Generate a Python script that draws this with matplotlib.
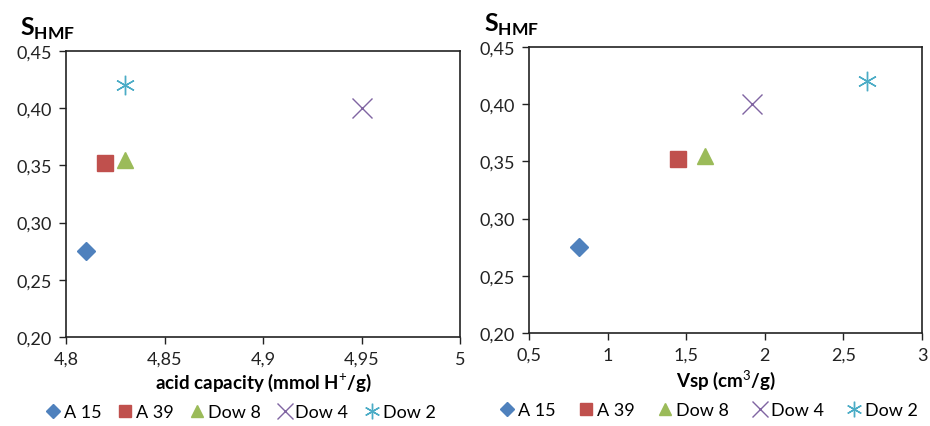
import numpy as np
import matplotlib
matplotlib.use('Agg')
import matplotlib.pyplot as plt
from matplotlib.ticker import FuncFormatter, MultipleLocator

# --- data ---
names       = ['A 15', 'A 39', 'Dow 8', 'Dow 4', 'Dow 2']
acid_cap    = [4.81, 4.82, 4.83, 4.95, 4.83]
vsp         = [0.82, 1.45, 1.62, 1.92, 2.65]
s_hmf       = [0.275, 0.352, 0.355, 0.40, 0.42]

colors  = ['#4F81BD', '#C0504D', '#9BBB59', '#8064A2', '#4BACC6']
markers = ['D', 's', '^', 'x', (6, 2, 0)]
msizes  = [9, 11, 11, 14, 14]
mews    = [1.0, 1.0, 1.0, 1.0, 1.0]

plt.rcParams['font.family'] = ['Lato', 'DejaVu Sans']
plt.rcParams['mathtext.fontset'] = 'custom'
plt.rcParams['mathtext.bf'] = 'Lato:bold'
plt.rcParams['mathtext.rm'] = 'Lato'

fig = plt.figure(figsize=(9.3, 4.27), dpi=100)

ax_L = fig.add_axes([66/930, 1 - 338/427, 394/930, 286/427])
ax_R = fig.add_axes([529/930, 1 - 334/427, 393/930, 286/427])


def comma(v, pos):
    return ('%g' % v).replace('.', ',')


def comma2(v, pos):
    return ('%.2f' % v).replace('.', ',')


for ax, xs in [(ax_L, acid_cap), (ax_R, vsp)]:
    for i in range(len(names)):
        ax.plot(xs[i], s_hmf[i], linestyle='none', marker=markers[i],
                color=colors[i], markersize=msizes[i], markeredgewidth=mews[i],
                label=names[i])
    ax.set_ylim(0.20, 0.45)
    ax.yaxis.set_major_locator(MultipleLocator(0.05))
    ax.yaxis.set_major_formatter(FuncFormatter(comma2))
    ax.xaxis.set_major_formatter(FuncFormatter(comma))
    ax.tick_params(direction='out', length=5, width=1, labelsize=13,
                   colors='#222222', pad=5)
    for sp in ax.spines.values():
        sp.set_linewidth(1.2)
        sp.set_color('#222222')

ax_L.set_xlim(4.8, 5.0)
ax_L.xaxis.set_major_locator(MultipleLocator(0.05))
ax_R.set_xlim(0.5, 3.0)
ax_R.xaxis.set_major_locator(MultipleLocator(0.5))

ax_L.set_xlabel('acid capacity (mmol H$^{+}$/g)', fontsize=13.5,
                fontweight='bold', labelpad=3)
ax_R.set_xlabel('Vsp (cm$^{3}$/g)', fontsize=13.5, fontweight='bold',
                labelpad=3)

# S_HMF labels above the y axes
fig.text(20/930, 1 - 36/427, r'$\mathbf{S}_{\mathbf{HMF}}$', fontsize=18)
fig.text(484/930, 1 - 32/427, r'$\mathbf{S}_{\mathbf{HMF}}$', fontsize=18)

for ax, cx, cy, csp in [(ax_L, 240, 413, 0.8), (ax_R, 708, 411, 1.2)]:
    h, l = ax.get_legend_handles_labels()
    fig.legend(h, l, loc='center', bbox_to_anchor=(cx/930, 1 - cy/427),
               ncol=5, frameon=False, fontsize=13, handletextpad=0.1,
               columnspacing=csp, handlelength=1.0, markerscale=0.8,
               borderpad=0)

plt.savefig('out.png', dpi=100)
plt.close(fig)
